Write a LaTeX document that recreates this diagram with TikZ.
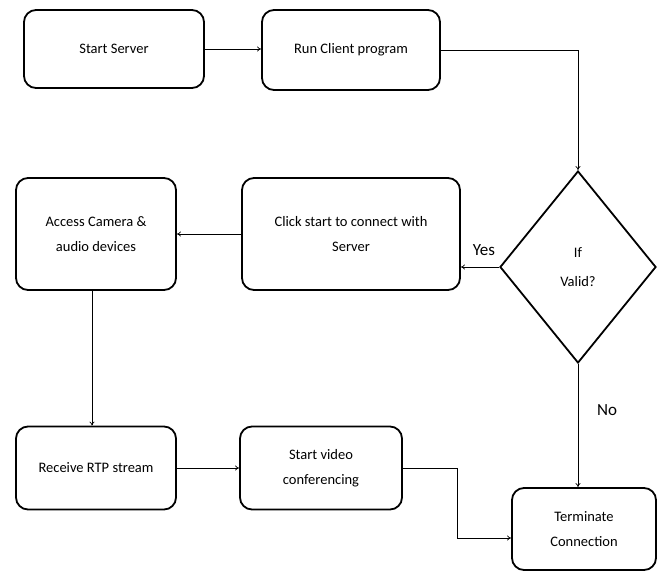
\documentclass[tikz,border=0pt]{standalone}
\usepackage{fontspec}
\setmainfont{Carlito}
\usetikzlibrary{shapes.geometric,arrows.meta,calc}
\begin{document}
\begin{tikzpicture}[x=1pt,y=-1pt,
  box/.style={draw,line width=1.8pt,rounded corners=12pt,align=center,font=\fontsize{14.5}{25}\selectfont,inner sep=0pt},
  dec/.style={draw,line width=1.8pt,diamond,align=center,font=\fontsize{14.5}{29}\selectfont,inner sep=0pt,minimum width=156pt,minimum height=192pt},
  conn/.style={line width=0.7pt,-{To[length=4pt,width=5pt]}},
  lab/.style={font=\fontsize{17}{18}\selectfont}]
\useasboundingbox (0,0) rectangle (662,571);
\node[box,minimum width=180pt,minimum height=78pt] (start) at (114,49) {Start Server};
\node[box,minimum width=178pt,minimum height=80pt] (run) at (351,50) {Run Client program};
\node[dec] (dia) at (578,267) {If\\Valid?};
\node[box,minimum width=218pt,minimum height=112pt] (click) at (351,234) {Click start to connect with\\Server};
\node[box,minimum width=160pt,minimum height=112pt] (access) at (96,234) {Access Camera \&\\audio devices};
\node[box,minimum width=160pt,minimum height=83pt] (recv) at (96,468) {Receive RTP stream};
\node[box,minimum width=162pt,minimum height=83pt] (video) at (321,468) {Start video\\conferencing};
\node[box,minimum width=144pt,minimum height=82pt] (term) at (584,529) {Terminate\\Connection};
\node[lab] (yes) at (484,250) {Yes};
\node[lab] (no) at (607,410) {No};
\coordinate (vbend) at (457,466);
\coordinate (tin) at ($(term.west)+(0,9)$);
\draw[conn] (start.east) -- (start.east -| run.west);
\draw[conn] (run.east) -| (dia.north);
\draw[conn] (dia.west) -- (dia.west -| click.east);
\draw[conn] (click.west) -- (click.west -| access.east);
\draw[conn] ([xshift=-4pt]access.south) -- ([xshift=-4pt]recv.north);
\draw[conn] (recv.east) -- (video.west);
\draw[conn] (video.east) -- (video.east -| vbend) |- (tin);
\draw[conn] (dia.south) -- (dia.south |- term.north);
\end{tikzpicture}
\end{document}
